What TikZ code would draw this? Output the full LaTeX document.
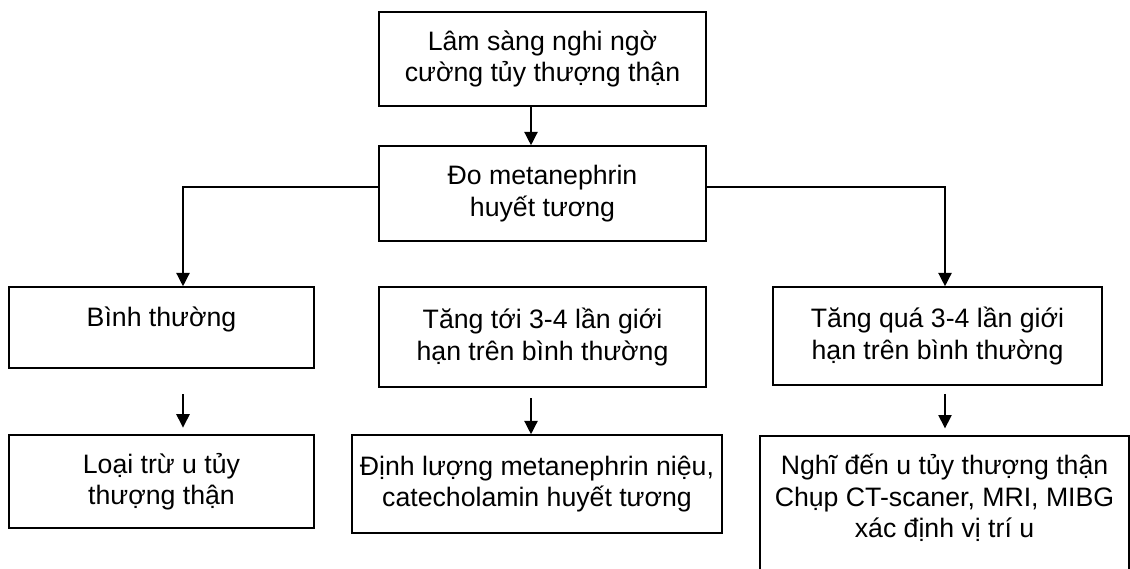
\documentclass[tikz,border=0pt]{standalone}
\usepackage{fontspec}
\setmainfont{Liberation Sans}
\usetikzlibrary{positioning,arrows.meta}

\begin{document}
\begin{tikzpicture}[x=0.75pt,y=-0.75pt,>={Triangle[width=10pt,length=10pt]},
	box/.style={draw,line width=1.2pt,align=center,inner sep=0pt,font=\fontsize{20}{23.5}\selectfont},
	link/.style={->,line width=1pt},
	]
	\useasboundingbox (0,0) rectangle (1130,568);

	\node[box,minimum width=245.25pt,minimum height=70.5pt] (top) at (542.5,59) {Lâm sàng nghi ngờ\\cường tủy thượng thận};
	\node[box,minimum width=245.25pt,minimum height=71.25pt] (measure) at (542.5,193.5) {Đo metanephrin\\huyết tương};
	\node[box,minimum width=228.75pt,minimum height=60.75pt,text depth=16pt] (normal) at (161.5,327.5) {Bình thường};
	\node[box,minimum width=245.25pt,minimum height=75pt] (mid) at (542.5,337) {Tăng tới 3-4 lần giới\\hạn trên bình thường};
	\node[box,minimum width=246.75pt,minimum height=73.5pt] (high) at (937.5,336) {Tăng quá 3-4 lần giới\\hạn trên bình thường};
	\node[box,minimum width=228.75pt,minimum height=69.75pt] (exclude) at (161.5,481.5) {Loại trừ u tủy\\thượng thận};
	\node[box,minimum width=277.5pt,minimum height=73.5pt] (urine) at (537,484) {Định lượng metanephrin niệu,\\catecholamin huyết tương};
	\node[box,anchor=north,minimum width=276.75pt,inner ysep=14pt,text depth=70pt] (tumor) at (944.5,435) {Nghĩ đến u tủy thượng thận\\Chụp CT-scaner, MRI, MIBG\\xác định vị trí u};

	% columns of the arrows
	\coordinate (colL) at (183,0);
	\coordinate (colM) at (531,0);
	\coordinate (colR) at (945,0);
	\coordinate (split) at (0,187);

	\draw[link] (top.south -| colM) -- (measure.north -| colM);
	\draw[link] (measure.west |- split) -| (colL |- normal.north);
	\draw[link] (measure.east |- split) -| (colR |- high.north);

	\draw[link,shorten <=19pt,shorten >=5pt] (colL |- normal.south) -- (colL |- exclude.north);
	\draw[link,shorten <=8pt] (colM |- mid.south) -- (colM |- urine.north);
	\draw[link,shorten <=6pt,shorten >=5pt] (colR |- high.south) -- (colR |- tumor.north);
\end{tikzpicture}
\end{document}
